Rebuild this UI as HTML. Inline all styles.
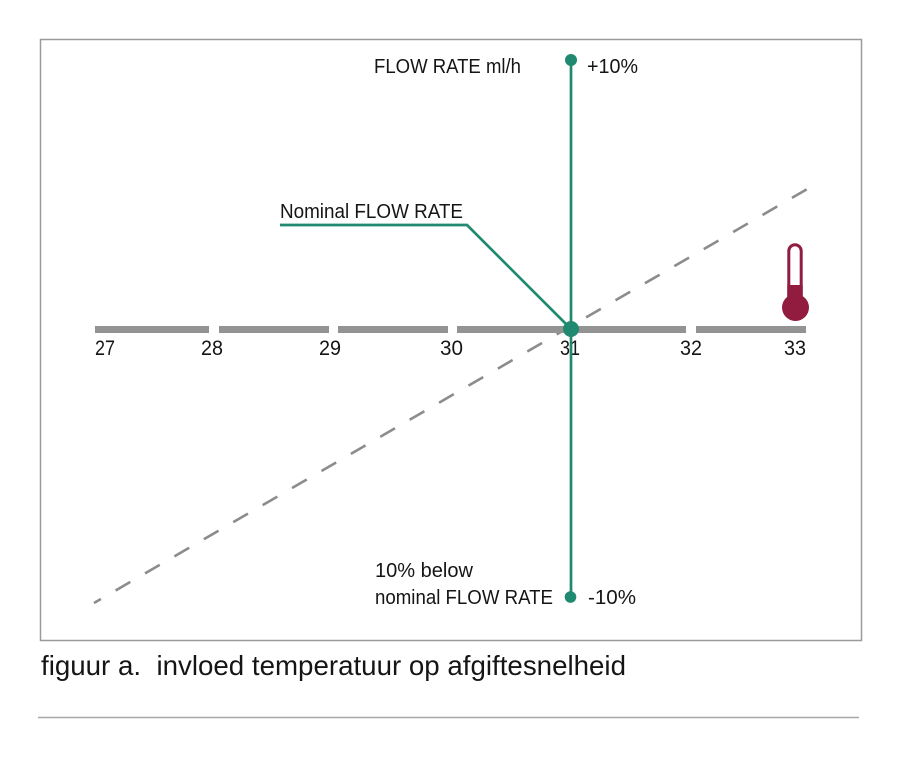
<!DOCTYPE html>
<html>
<head>
<meta charset="utf-8">
<style>
  html, body { margin: 0; padding: 0; background: #fff; }
  svg { display: block; }
  text { font-family: "Liberation Sans", sans-serif; fill: #151515; }
</style>
</head>
<body>
<svg width="900" height="759" viewBox="0 0 900 759" xmlns="http://www.w3.org/2000/svg">
  <!-- frame -->
  <rect x="40.5" y="39.5" width="821" height="601" fill="none" stroke="#9a9a9a" stroke-width="1.5"/>

  <!-- dashed line -->
  <line x1="94" y1="603" x2="809" y2="188" stroke="#8c8c8c" stroke-width="2.6" stroke-dasharray="17 17" stroke-dashoffset="9"/>

  <!-- axis bar segments -->
  <g fill="#939393">
    <rect x="95" y="326" width="114" height="7"/>
    <rect x="219" y="326" width="110" height="7"/>
    <rect x="338" y="326" width="110" height="7"/>
    <rect x="457" y="326" width="229" height="7"/>
    <rect x="696" y="326" width="110" height="7"/>
  </g>

  <!-- axis labels -->
  <g font-size="21">
    <text x="95" y="355" textLength="20" lengthAdjust="spacingAndGlyphs">27</text>
    <text x="201" y="355" textLength="22" lengthAdjust="spacingAndGlyphs">28</text>
    <text x="319" y="355" textLength="22" lengthAdjust="spacingAndGlyphs">29</text>
    <text x="440" y="355" textLength="23" lengthAdjust="spacingAndGlyphs">30</text>
    <text x="560" y="355" textLength="20" lengthAdjust="spacingAndGlyphs">31</text>
    <text x="680" y="355" textLength="22" lengthAdjust="spacingAndGlyphs">32</text>
    <text x="784" y="355" textLength="22" lengthAdjust="spacingAndGlyphs">33</text>
  </g>

  <!-- green vertical line -->
  <line x1="571" y1="60" x2="571" y2="597" stroke="#1f8a6f" stroke-width="2.7"/>
  <!-- nominal line -->
  <polyline points="280,225 467,225 571,329" fill="none" stroke="#1f8a6f" stroke-width="2.7"/>
  <circle cx="571" cy="60" r="6" fill="#1f8a6f"/>
  <circle cx="570.5" cy="597" r="5.8" fill="#1f8a6f"/>
  <circle cx="571" cy="329" r="8" fill="#1f8a6f"/>

  <!-- labels -->
  <g font-size="20.5">
    <text x="374" y="73" textLength="147" lengthAdjust="spacingAndGlyphs">FLOW RATE ml/h</text>
    <text x="587" y="73" textLength="51" lengthAdjust="spacingAndGlyphs">+10%</text>
    <text x="280" y="218" textLength="183" lengthAdjust="spacingAndGlyphs">Nominal FLOW RATE</text>
    <text x="375" y="577" textLength="98" lengthAdjust="spacingAndGlyphs">10% below</text>
    <text x="375" y="604" textLength="178" lengthAdjust="spacingAndGlyphs">nominal FLOW RATE</text>
    <text x="588" y="604" textLength="48" lengthAdjust="spacingAndGlyphs">-10%</text>
  </g>

  <!-- thermometer -->
  <g>
    <path d="M788.8,300 L788.8,251 A6.2,6.2 0 0 1 801.2,251 L801.2,300" fill="#fff" stroke="#921c40" stroke-width="3"/>
    <rect x="787.3" y="285" width="15.4" height="20" fill="#921c40"/>
    <circle cx="795.5" cy="307.5" r="13.5" fill="#921c40"/>
  </g>

  <!-- caption -->
  <text x="41" y="675" font-size="28" xml:space="preserve" textLength="585" lengthAdjust="spacingAndGlyphs">figuur a.  invloed temperatuur op afgiftesnelheid</text>

  <!-- bottom rule -->
  <line x1="38" y1="717.5" x2="859" y2="717.5" stroke="#a8a8a8" stroke-width="1.6"/>
</svg>
</body>
</html>
